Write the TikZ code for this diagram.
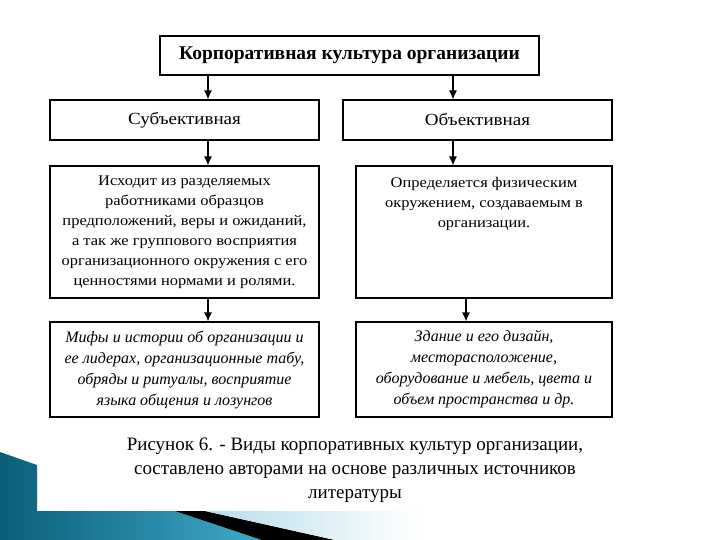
\documentclass[tikz,border=0pt]{standalone}
\usepackage{fontspec}
\setmainfont{Liberation Serif}
\newfontfamily\boxfont{Liberation Serif}[FakeStretch=1.12]
\usetikzlibrary{arrows.meta}

\definecolor{tealdark}{HTML}{0B5E78}
\definecolor{teallight}{HTML}{3FA9C9}
\definecolor{bandlight}{HTML}{B5DDEA}

\tikzset{
    box/.style={draw, line width=1.1pt, inner sep=4pt, align=center,
        font=\boxfont\fontsize{17}{20}\selectfont},
    descr/.style={box, font=\boxfont\fontsize{14.7}{20}\selectfont},
    myth/.style={box, font=\fontsize{16}{21}\selectfont\itshape},
    arr/.style={-{Latex[length=9pt,width=8pt]}, line width=1.2pt}
}

\begin{document}
\begin{tikzpicture}[x=1pt, y=-1pt]
    \useasboundingbox (0,0) rectangle (720,540);

    \shade[left color=tealdark, right color=teallight]
        (0,452) -- (37,465) -- (37,511) -- (175,511) -- (262,540) -- (0,540) -- cycle;
    \fill[black] (175,511) -- (205,511) -- (335,540) -- (262,540) -- cycle;
    \shade[left color=bandlight, right color=white]
        (205,511) -- (420,511) -- (420,540) -- (335,540) -- cycle;

    \node[box, minimum width=379pt, minimum height=39pt,
        font=\fontsize{19.5}{22}\selectfont\bfseries] (top) at (349.5,55.5)
        {Корпоративная культура организации};

    \node[box, minimum width=269pt, minimum height=40pt] (subj) at (184.5,120) {Субъективная};
    \node[box, minimum width=269pt, minimum height=40pt] (obj) at (477.5,120) {Объективная};

    \node[descr, minimum width=269pt, minimum height=132pt] (subjd) at (184.5,232)
        {Исходит из разделяемых\\ работниками образцов\\ предположений, веры и ожиданий,\\
        а так же группового восприятия\\ организационного окружения с его\\
        ценностями нормами и ролями.};
    \node[descr, minimum width=256pt, inner sep=0pt] (objd) at (484,232)
        {\parbox[c][132pt][t]{240pt}{\centering\vspace{11pt}
        Определяется физическим\\ окружением, создаваемым в\\ организации.}};

    \node[myth, minimum width=269pt, minimum height=95pt] (subjb) at (184.5,369.5)
        {Мифы и истории об организации и\\ ее лидерах, организационные табу,\\
        обряды и ритуалы, восприятие\\ языка общения и лозунгов};
    \node[myth, minimum width=256pt, minimum height=95pt] (objb) at (484,369.5)
        {Здание и его дизайн,\\ месторасположение,\\ оборудование и мебель, цвета и\\
        объем пространства и др.};

    \draw[arr] ([xshift=-141.5pt]top.south) -- ([xshift=23.5pt]subj.north);
    \draw[arr] ([xshift=103.5pt]top.south) -- ([xshift=-24.5pt]obj.north);
    \draw[arr] ([xshift=23.5pt]subj.south) -- ([xshift=23.5pt]subjd.north);
    \draw[arr] ([xshift=-24.5pt]obj.south) -- ([xshift=-31pt]objd.north);
    \draw[arr] ([xshift=23.5pt]subjd.south) -- ([xshift=23.5pt]subjb.north);
    \draw[arr] ([xshift=-18pt]objd.south) -- ([xshift=-18pt]objb.north);

    \node[align=center, font=\fontsize{19}{24}\selectfont] (caption) at (355,470)
        {Рисунок 6. - Виды корпоративных культур организации,\\
        составлено авторами на основе различных источников\\
        литературы};
\end{tikzpicture}
\end{document}
